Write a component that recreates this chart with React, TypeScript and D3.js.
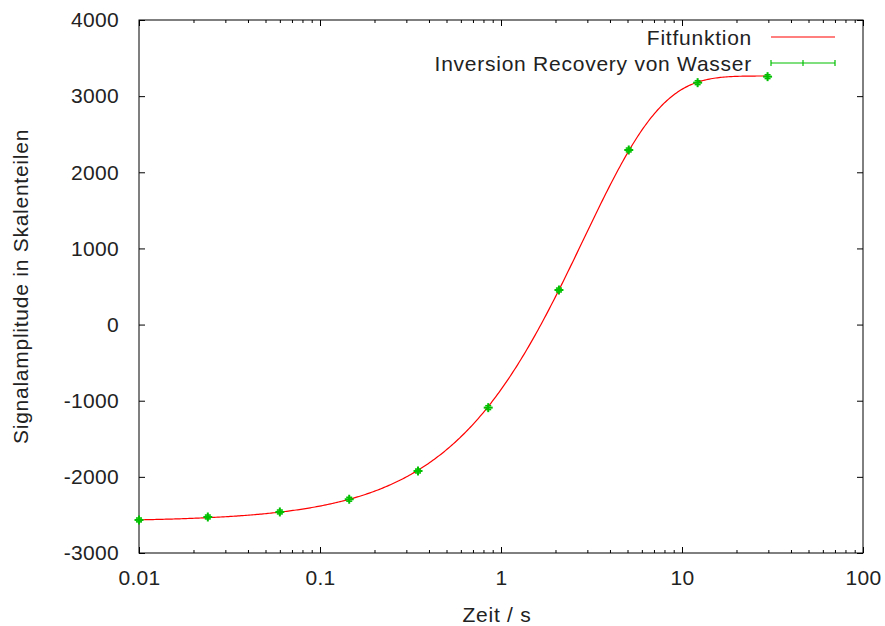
import React, { useEffect, useRef } from "react";
import * as d3 from "d3";

// ---- data ----
const timeValues: number[] = [0.01, 0.024, 0.06, 0.145, 0.348, 0.85, 2.09, 5.08, 12.2, 29.7];
const signalValues: number[] = [-2566, -2527, -2461, -2294, -1923, -1091, 454, 2293, 3177, 3256];
const signalErrors: number[] = [25, 25, 25, 25, 25, 25, 25, 25, 25, 25];

// fit parameters: M(t) = M0 - B * exp(-t / T1)
const fitM0 = 3265;
const fitB = 5850;
const fitT1 = 2.85;

const xTickValues: number[] = [0.01, 0.1, 1, 10, 100];
const xTickLabels: string[] = ["0.01", "0.1", "1", "10", "100"];
const yTickValues: number[] = [-3000, -2000, -1000, 0, 1000, 2000, 3000, 4000];
const yTickLabels: string[] = ["-3000", "-2000", "-1000", "0", "1000", "2000", "3000", "4000"];

const legendLabels: string[] = ["Fitfunktion", "Inversion Recovery von Wasser"];
const xTitle = "Zeit / s";
const yTitle = "Signalamplitude in Skalenteilen";

// ---- layout ----
const W = 885;
const H = 626;
const M = { left: 139, top: 20, right: 885 - 863, bottom: 626 - 553 };
const FONT = "'Liberation Sans', Arial, sans-serif";
const FS = 21;
const TEXT = "#222";
const RED = "#ff0000";
const GREEN = "#00c000";

export default function App() {
  const ref = useRef<SVGSVGElement | null>(null);

  const x = d3.scaleLog().domain([0.01, 100]).range([M.left, W - M.right]);
  const y = d3.scaleLinear().domain([-3000, 4000]).range([H - M.bottom, M.top]);

  const minorTicks: number[] = [];
  for (let e = -2; e < 2; e++) {
    for (let k = 2; k <= 9; k++) minorTicks.push(k * Math.pow(10, e));
  }

  useEffect(() => {
    const svg = d3.select(ref.current);
    svg.selectAll(".ax").remove();
    const fmtX = (d: any) => xTickLabels[xTickValues.indexOf(d)] ?? "";
    const fmtY = (d: any) => yTickLabels[yTickValues.indexOf(d)] ?? "";

    const styleAxis = (g: any) => {
      g.select(".domain").remove();
      g.selectAll("line").attr("stroke", "#000");
      g.selectAll("text")
        .attr("fill", TEXT)
        .style("font-family", FONT)
        .style("font-size", FS + "px")
        .style("letter-spacing", "0.3px");
    };

    svg.append("g").attr("class", "ax")
      .attr("transform", `translate(0,${H - M.bottom})`)
      .call(d3.axisBottom(x).tickValues(xTickValues).tickFormat(fmtX).tickSizeInner(-6).tickSizeOuter(0).tickPadding(17) as any)
      .call(styleAxis);
    svg.append("g").attr("class", "ax")
      .attr("transform", `translate(0,${H - M.bottom})`)
      .call(d3.axisBottom(x).tickValues(minorTicks).tickFormat(() => "").tickSizeInner(-3).tickSizeOuter(0) as any)
      .call(styleAxis);
    svg.append("g").attr("class", "ax")
      .attr("transform", `translate(0,${M.top})`)
      .call(d3.axisTop(x).tickValues(xTickValues).tickFormat(() => "").tickSizeInner(-6).tickSizeOuter(0) as any)
      .call(styleAxis);
    svg.append("g").attr("class", "ax")
      .attr("transform", `translate(0,${M.top})`)
      .call(d3.axisTop(x).tickValues(minorTicks).tickFormat(() => "").tickSizeInner(-3).tickSizeOuter(0) as any)
      .call(styleAxis);
    svg.append("g").attr("class", "ax")
      .attr("transform", `translate(${M.left},0)`)
      .call(d3.axisLeft(y).tickValues(yTickValues).tickFormat(fmtY).tickSizeInner(-6).tickSizeOuter(0).tickPadding(20) as any)
      .call(styleAxis);
    svg.append("g").attr("class", "ax")
      .attr("transform", `translate(${W - M.right},0)`)
      .call(d3.axisRight(y).tickValues(yTickValues).tickFormat(() => "").tickSizeInner(-6).tickSizeOuter(0) as any)
      .call(styleAxis);
  }, []);

  // fit curve sampled on log scale over data range
  const t0 = timeValues[0];
  const t1 = timeValues[timeValues.length - 1];
  const fitPts: [number, number][] = d3.range(0, 401).map((i) => {
    const t = t0 * Math.pow(t1 / t0, i / 400);
    return [t, fitM0 - fitB * Math.exp(-t / fitT1)];
  });
  const line = d3.line<[number, number]>().x((d) => x(d[0])).y((d) => y(d[1]));

  const legX1 = 771;
  const legX2 = 835;
  const legTextX = 752;
  const legY1 = 37;
  const legY2 = 63;
  const textStyle = { fontFamily: FONT, fontSize: FS, letterSpacing: "0.75px" };

  return (
    <svg ref={ref} width={W} height={H} style={{ position: "absolute", left: 0, top: 0, background: "#fff" }}>
      <rect x={0} y={0} width={W} height={H} fill="#fff" />
      <rect x={M.left} y={M.top} width={W - M.left - M.right} height={H - M.top - M.bottom} fill="none" stroke="#000" strokeWidth={1} />

      <path d={line(fitPts) || ""} fill="none" stroke={RED} strokeWidth={1.2} />

      {timeValues.map((t, i) => {
        const cx = x(t);
        const cy = y(signalValues[i]);
        const yTop = y(signalValues[i] + signalErrors[i]);
        const yBot = y(signalValues[i] - signalErrors[i]);
        return (
          <g key={i} stroke={GREEN} strokeWidth={1.6}>
            <line x1={cx} x2={cx} y1={yTop} y2={yBot} />
            <line x1={cx - 3} x2={cx + 3} y1={yTop} y2={yTop} />
            <line x1={cx - 3} x2={cx + 3} y1={yBot} y2={yBot} />
            <line x1={cx - 4.5} x2={cx + 4.5} y1={cy} y2={cy} strokeWidth={2} />
            <line x1={cx} x2={cx} y1={cy - 4.5} y2={cy + 4.5} strokeWidth={2} />
          </g>
        );
      })}

      {/* legend */}
      <g style={textStyle} fill={TEXT}>
        <text x={legTextX} y={legY1} textAnchor="end" dy="0.36em">{legendLabels[0]}</text>
        <text x={legTextX} y={legY2} textAnchor="end" dy="0.36em">{legendLabels[1]}</text>
      </g>
      <line x1={legX1} x2={legX2} y1={legY1} y2={legY1} stroke={RED} strokeWidth={1.2} />
      <g stroke={GREEN} strokeWidth={1.2}>
        <line x1={legX1} x2={legX2} y1={legY2} y2={legY2} />
        <line x1={legX1} x2={legX1} y1={legY2 - 3} y2={legY2 + 3} />
        <line x1={legX2} x2={legX2} y1={legY2 - 3} y2={legY2 + 3} />
        <line x1={(legX1 + legX2) / 2} x2={(legX1 + legX2) / 2} y1={legY2 - 3} y2={legY2 + 3} />
      </g>

      {/* axis titles */}
      <text x={(M.left + W - M.right) / 2 - 4} y={622} textAnchor="middle" fill={TEXT} style={textStyle}>{xTitle}</text>
      <text transform={`translate(28,${(M.top + H - M.bottom) / 2}) rotate(-90)`} textAnchor="middle" fill={TEXT} style={textStyle}>{yTitle}</text>
    </svg>
  );
}
